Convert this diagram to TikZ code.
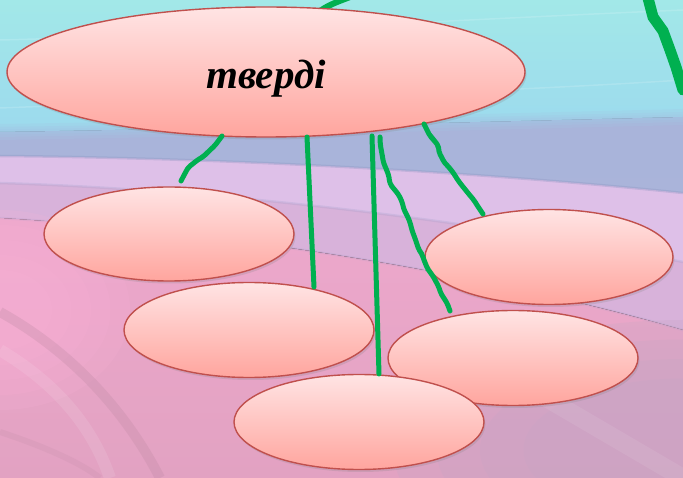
\documentclass[tikz,border=0pt]{standalone}
\usepackage{fontspec}
\setmainfont{Liberation Serif}
\usetikzlibrary{shapes.geometric,shadows,decorations.pathmorphing}
\definecolor{gr}{HTML}{00B050}
\definecolor{bgA}{HTML}{A2E8E8}
\definecolor{bgB}{HTML}{9CD9EE}
\definecolor{bgC}{HTML}{A9B4DA}
\definecolor{bgD}{HTML}{ACB4DA}
\definecolor{lilac}{HTML}{DEC0E8}
\definecolor{lilacB}{HTML}{D8B2DA}
\definecolor{pinkA}{HTML}{EDA8CC}
\definecolor{pinkB}{HTML}{E2A2C2}
\definecolor{pinkL}{HTML}{FCB2D8}
\definecolor{mauve}{HTML}{C6A6C4}
\definecolor{seam}{HTML}{8E96C2}
\definecolor{ovtop}{HTML}{FFE4E4}
\definecolor{ovbot}{HTML}{FFA59E}
\definecolor{ovline}{HTML}{C0504D}
\tikzset{
  oval/.style={ellipse, draw=ovline, line width=1.4pt, top color=ovtop, bottom color=ovbot,
    inner sep=0pt, drop shadow={opacity=0.22, shadow xshift=1.5pt, shadow yshift=-2.5pt}},
  wire/.style={draw=gr, line width=5pt, line cap=round},
  wavy/.style={wire, decorate, decoration={random steps, segment length=7pt, amplitude=1.3pt}, rounded corners=2pt},
  seamline/.style={draw=seam, line width=2.5pt, opacity=0.35}
}
\begin{document}
\begin{tikzpicture}[x=1pt,y=-1pt]
\pgfmathsetseed{11}
\useasboundingbox (0,0) rectangle (683,478);
% background bands
\fill[top color=bgA, bottom color=bgB] (0,0) rectangle (683,140);
\fill[top color=bgC, bottom color=bgD] (0,132) .. controls (250,128) and (480,122) .. (683,117) -- (683,478) -- (0,478) -- cycle;
\foreach \w/\o in {16/0.25, 10/0.3, 5/0.35}
  \draw[color=bgB!50!bgC, line width=\w pt, opacity=\o] (0,132) .. controls (250,128) and (480,122) .. (683,117);
\fill[color=lilac] (0,156) .. controls (230,158) and (480,172) .. (683,193) -- (683,478) -- (0,478) -- cycle;
\draw[seamline] (0,156) .. controls (230,158) and (480,172) .. (683,193);
\fill[color=lilacB] (0,183) .. controls (230,190) and (480,222) .. (683,262) -- (683,478) -- (0,478) -- cycle;
\draw[seamline, opacity=0.2] (0,183) .. controls (230,190) and (480,222) .. (683,262);
\fill[top color=pinkA, bottom color=pinkB] (0,218) .. controls (230,232) and (480,272) .. (683,330) -- (683,478) -- (0,478) -- cycle;
\draw[seamline, opacity=0.15] (0,218) .. controls (230,232) and (480,272) .. (683,330);
% soft glows
\foreach \s in {1.0,0.85,0.7,0.55,0.4}
  \fill[color=pinkL, opacity=0.16] (0,310) ellipse ({130*\s} and {100*\s});
\foreach \s in {1.0,0.85,0.7,0.55}
  \fill[color=mauve, opacity=0.25] (683,450) ellipse ({290*\s} and {130*\s});
\draw[color=white, opacity=0.08, line width=18pt] (430,330) -- (683,478);
% arcs lower left
\draw[color=pinkB!85!black, opacity=0.3, line width=10pt] (0,312) .. controls (60,345) and (120,400) .. (160,478);
\draw[color=white, opacity=0.10, line width=12pt] (0,350) .. controls (50,380) and (90,420) .. (110,478);
\draw[color=pinkB!85!black, opacity=0.2, line width=6pt] (0,432) .. controls (40,445) and (80,462) .. (100,478);
% faint streaks top
\draw[color=white, opacity=0.15, line width=1.5pt] (0,108) .. controls (200,100) and (450,95) .. (683,80);
\draw[color=white, opacity=0.15, line width=1.5pt] (0,40) .. controls (200,35) and (450,20) .. (683,10);
% background green strokes
\coordinate (g1a) at (648,-2);
\coordinate (g1b) at (683,90);
\coordinate (g2a) at (320,11);
\coordinate (g2b) at (350,-3);
\draw[wire, line width=11pt] (g1a) -- (653,17) -- (663,31) -- (670,50) -- (676,67) -- (g1b);
\draw[wire, line width=6pt] (g2a) .. controls (330,4) and (340,1) .. (g2b);
% nodes
\node[oval, minimum width=518pt, minimum height=130pt] (top) at (266,72) {};
\node[font=\fontsize{41}{48}\selectfont\bfseries\itshape, inner sep=0pt] (toplbl) at (266,79) {тверді};
\node[oval, minimum width=250pt, minimum height=94pt] (e1) at (169,234) {};
\node[oval, minimum width=248pt, minimum height=95pt] (e5) at (549,257) {};
\node[oval, minimum width=250pt, minimum height=95pt] (e2) at (249,330) {};
\node[oval, minimum width=250pt, minimum height=95pt] (e4) at (513,358) {};
\node[oval, minimum width=250pt, minimum height=95pt] (e3) at (359,422) {};
% connectors
\coordinate (a1) at (222,136);
\coordinate (b1) at (181,181);
\coordinate (a2) at (307,137);
\coordinate (b2) at (314,287);
\coordinate (a3) at (372,136);
\coordinate (b3) at (379,374);
\coordinate (a4) at (380,137);
\coordinate (b4) at (450,311);
\coordinate (a5) at (424,124);
\coordinate (b5) at (483,214);
\draw[wavy] (a1) -- (216,144) -- (205,155) -- (190,166) -- (b1);
\draw[wire] (a2) -- (b2);
\draw[wire] (a3) -- (b3);
\draw[wavy] (a4) -- (383,160) -- (390,183) -- (398,194) -- (413,233) -- (424,260) -- (434,278) -- (b4);
\draw[wavy] (a5) -- (429,134) -- (437,144) -- (443,160) -- (460,183) -- (468,193) -- (b5);
\end{tikzpicture}
\end{document}
